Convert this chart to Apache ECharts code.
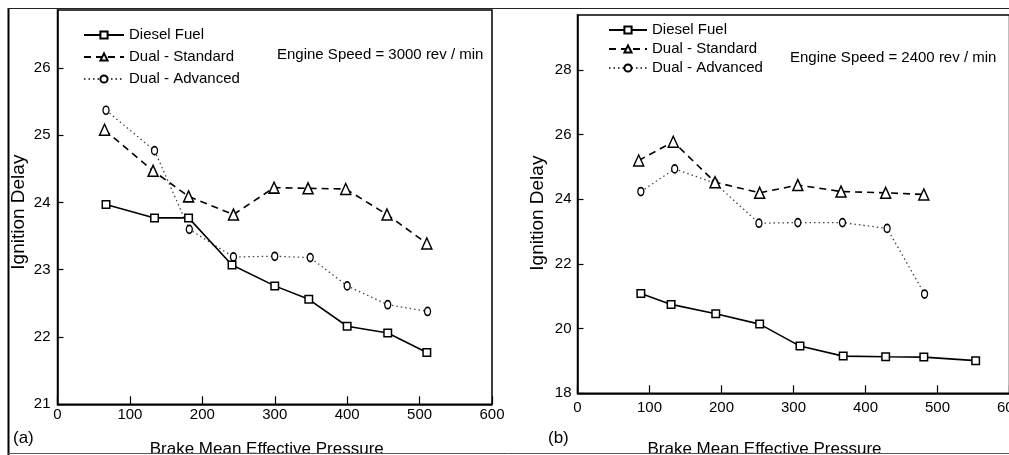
<!DOCTYPE html>
<html><head><meta charset="utf-8">
<script src="https://cdn.jsdelivr.net/npm/echarts@6/dist/echarts.min.js"></script>
<style>html,body{margin:0;padding:0;background:#fff}#c{width:1009px;height:455px}</style>
</head><body><div id="c"></div>
<script>
// ---- Panel (a): Engine Speed = 3000 rev/min ----
const dieselA_x   = [67, 134, 181, 241, 300, 347, 400, 456, 510];
const dieselA_y   = [23.97, 23.77, 23.77, 23.07, 22.76, 22.56, 22.16, 22.06, 21.77];
const standardA_x = [65, 132, 181, 243, 299, 346, 398, 455, 510];
const standardA_y = [25.08, 24.47, 24.09, 23.82, 24.22, 24.21, 24.2, 23.82, 23.39];
const advancedA_x = [67, 134, 182, 243, 300, 349, 400, 456, 511];
const advancedA_y = [25.37, 24.77, 23.6, 23.19, 23.2, 23.18, 22.76, 22.48, 22.38];

// ---- Panel (b): Engine Speed = 2400 rev/min ----
const dieselB_x   = [88, 130, 192, 253, 309, 369, 428, 481, 553];
const dieselB_y   = [21.09, 20.75, 20.46, 20.14, 19.46, 19.15, 19.13, 19.12, 19.01];
const standardB_x = [85, 133, 191, 253, 306, 366, 428, 481];
const standardB_y = [25.2, 25.78, 24.53, 24.2, 24.44, 24.24, 24.2, 24.15];
const advancedB_x = [88, 135, 191, 252, 306, 368, 430, 482];
const advancedB_y = [24.24, 24.94, 24.5, 23.26, 23.28, 23.28, 23.1, 21.07];

const seriesNames = ['Diesel Fuel', 'Dual - Standard', 'Dual - Advanced'];
const speedLabels = ['Engine Speed = 3000 rev / min', 'Engine Speed = 2400 rev / min'];
const panelLabels = ['(a)', '(b)'];
const xTitle = 'Brake Mean Effective Pressure';
const yTitle = 'Ignition Delay';

const FONT = '"Liberation Sans", Arial, sans-serif';

const styles = [
  { symbol: 'rect', symbolSize: [7.5, 7.5], lineStyle: { color: '#000', width: 1.6, type: 'solid' } },
  { symbol: 'triangle', symbolSize: [10, 11], lineStyle: { color: '#000', width: 1.6, type: [7, 5] } },
  { symbol: 'circle', symbolSize: [6, 8], lineStyle: { color: '#444', width: 1.3, type: [1.5, 3] } }
];

function mk(idx, xs, ys, gi) {
  const s = styles[idx];
  return {
    name: seriesNames[idx], type: 'line', xAxisIndex: gi, yAxisIndex: gi,
    data: xs.map((x, i) => [x, ys[i]]),
    symbol: s.symbol, symbolSize: s.symbolSize, showAllSymbol: true,
    color: '#000',
    lineStyle: s.lineStyle,
    itemStyle: { color: '#fff', borderColor: '#000', borderWidth: 1.5 },
    emphasis: { disabled: true }, z: 3 - idx + 2
  };
}

const axisLbl = { color: '#000', fontSize: 15, fontFamily: FONT };

const chart = echarts.init(document.getElementById('c'), null, { renderer: 'canvas' });
chart.setOption({
  animation: false,
  backgroundColor: '#fff',
  textStyle: { fontFamily: FONT },
  grid: [
    { left: 57.5, top: 10, width: 434.5, height: 394.3, show: true, borderColor: '#000', borderWidth: 1.5, containLabel: false, outerBoundsMode: 'none' },
    { left: 577.5, top: 15, width: 432, height: 378.3, show: true, borderColor: '#000', borderWidth: 1.5, containLabel: false, outerBoundsMode: 'none' }
  ],
  xAxis: [
    { type: 'value', gridIndex: 0, min: 0, max: 600, interval: 100, splitLine: { show: false },
      axisLine: { lineStyle: { color: '#000', width: 1.5 } },
      axisTick: { inside: true, length: 8, lineStyle: { color: '#000', width: 1.2 } },
      axisLabel: Object.assign({ margin: 3 }, axisLbl),
      name: xTitle, nameLocation: 'middle', nameGap: 37,
      nameTextStyle: { color: '#000', fontSize: 17, fontFamily: FONT, padding: [0, 16, 0, 0] } },
    { type: 'value', gridIndex: 1, min: 0, max: 600, interval: 100, splitLine: { show: false },
      axisLine: { lineStyle: { color: '#000', width: 1.5 } },
      axisTick: { inside: true, length: 8, lineStyle: { color: '#000', width: 1.2 } },
      axisLabel: Object.assign({ margin: 7 }, axisLbl),
      name: xTitle, nameLocation: 'middle', nameGap: 48,
      nameTextStyle: { color: '#000', fontSize: 17, fontFamily: FONT, padding: [0, 58, 0, 0] } }
  ],
  yAxis: [
    { type: 'value', gridIndex: 0, min: 21, max: 26.86, interval: 1, splitLine: { show: false },
      axisLine: { lineStyle: { color: '#000', width: 1.5 } },
      axisTick: { inside: true, length: 6, lineStyle: { color: '#000', width: 1.2 } },
      axisLabel: Object.assign({ margin: 7, showMaxLabel: false }, axisLbl),
      name: yTitle, nameLocation: 'middle', nameGap: 29,
      nameTextStyle: { color: '#000', fontSize: 19, fontFamily: FONT, padding: [0, 10, 0, 0] } },
    { type: 'value', gridIndex: 1, min: 18, max: 29.7, interval: 2, splitLine: { show: false },
      axisLine: { lineStyle: { color: '#000', width: 1.5 } },
      axisTick: { inside: true, length: 6, lineStyle: { color: '#000', width: 1.2 } },
      axisLabel: Object.assign({ margin: 6, showMaxLabel: false }, axisLbl),
      name: yTitle, nameLocation: 'middle', nameGap: 30,
      nameTextStyle: { color: '#000', fontSize: 19, fontFamily: FONT, padding: [0, 18, 0, 0] } }
  ],
  legend: [
    { orient: 'vertical', left: 78, top: 21.5, itemWidth: 40, itemHeight: 9, itemGap: 5,
      data: seriesNames, selectedMode: false,
      textStyle: { color: '#000', fontSize: 15, fontFamily: FONT, lineHeight: 17 } },
    { orient: 'vertical', left: 603, top: 16.5, itemWidth: 38, itemHeight: 9, itemGap: 2,
      data: seriesNames, selectedMode: false,
      textStyle: { color: '#000', fontSize: 15, fontFamily: FONT, lineHeight: 17 } }
  ],
  graphic: [
    { type: 'line', z: 100, shape: { x1: 8.5, y1: 8, x2: 8.5, y2: 455 }, style: { stroke: '#000', lineWidth: 2 } },
    { type: 'line', z: 100, shape: { x1: 8, y1: 8.5, x2: 1009, y2: 8.5 }, style: { stroke: '#222', lineWidth: 1.2 } },
    { type: 'line', z: 100, shape: { x1: 8, y1: 453.5, x2: 1009, y2: 453.5 }, style: { stroke: '#555', lineWidth: 1 } },
    { type: 'text', z: 100, left: 277, top: 47, style: { text: speedLabels[0], font: '15px ' + FONT, fill: '#000' } },
    { type: 'text', z: 100, left: 790, top: 50, style: { text: speedLabels[1], font: '15px ' + FONT, fill: '#000' } },
    { type: 'text', z: 100, left: 13, top: 430, style: { text: panelLabels[0], font: '17px ' + FONT, fill: '#000' } },
    { type: 'text', z: 100, left: 548, top: 430, style: { text: panelLabels[1], font: '17px ' + FONT, fill: '#000' } }
  ],
  series: [
    mk(0, dieselA_x, dieselA_y, 0),
    mk(1, standardA_x, standardA_y, 0),
    mk(2, advancedA_x, advancedA_y, 0),
    mk(0, dieselB_x, dieselB_y, 1),
    mk(1, standardB_x, standardB_y, 1),
    mk(2, advancedB_x, advancedB_y, 1)
  ]
});
</script></body></html>
